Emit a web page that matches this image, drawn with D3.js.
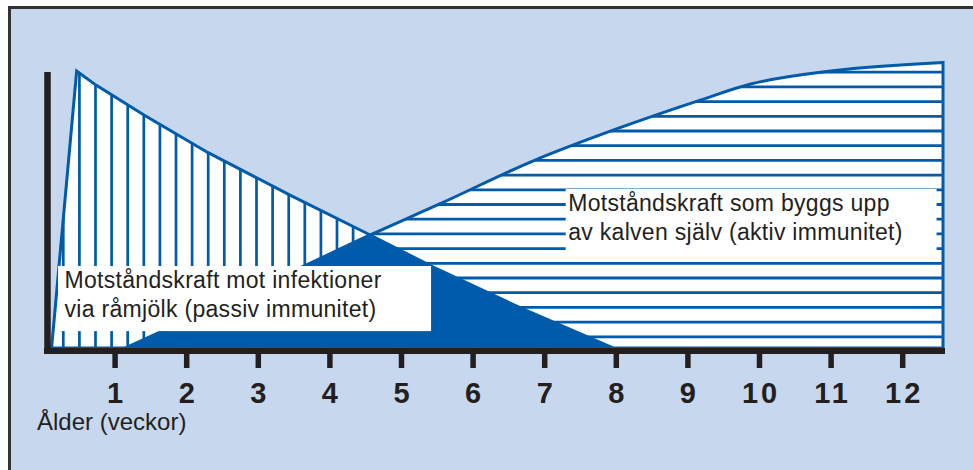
<!DOCTYPE html>
<html>
<head>
<meta charset="utf-8">
<script src="https://cdn.jsdelivr.net/npm/d3@7"></script>
<style>
  html, body { margin: 0; padding: 0; background: #ffffff; }
  svg { display: block; }
  text { font-family: "Liberation Sans", Arial, Helvetica, sans-serif; fill: #231f20; }
</style>
</head>
<body>
<svg id="chart" width="973" height="470"></svg>
<script>
// Age axis (weeks) and its tick labels
const weekTicks = [1, 2, 3, 4, 5, 6, 7, 8, 9, 10, 11, 12];
const tickLabels = ["1", "2", "3", "4", "5", "6", "7", "8", "9", "10", "11", "12"];

// Passive immunity (from colostrum): quick rise, then slow decline
const passiveWeeks = [0.12, 0.47, 0.74, 1.41, 2.30, 3.45, 4.57, 5.45, 6.70, 7.96];
const passiveLevel = [0, 100, 94.9, 84.1, 70.6, 55.2, 40.8, 29.2, 14.1, 0];

// Active immunity (built by the calf itself)
const activeWeeks = [1.15, 3.68, 4.57, 5.54, 6.84, 8.00, 9.18, 9.87, 11.03, 12.57];
const activeLevel = [0, 30.0, 40.8, 52.0, 67.5, 79.0, 89.5, 95.2, 100.1, 103.1];

// Label texts
const passiveLabel = ["Motståndskraft mot infektioner", "via råmjölk (passiv immunitet)"];
const activeLabel = ["Motståndskraft som byggs upp", "av kalven själv (aktiv immunitet)"];
const axisTitle = "Ålder (veckor)";

const BLUE = "#005baa";
const BG = "#c7d8ee";
const INK = "#231f20";

const svg = d3.select("#chart");

const x = d3.scaleLinear().domain([0, 12]).range([43, 902.2]);
const y = d3.scaleLinear().domain([0, 100]).range([348, 71]);

const passive = passiveWeeks.map((w, i) => ({ w, v: passiveLevel[i] }));
const active = activeWeeks.map((w, i) => ({ w, v: activeLevel[i] }));

// Panel frame
svg.append("rect").attr("x", 9.5).attr("y", 7.5).attr("width", 1000).attr("height", 500)
  .attr("fill", BG).attr("stroke", "#333333").attr("stroke-width", 3);

const passiveArea = d3.area().x(d => x(d.w)).y0(y(0)).y1(d => y(d.v)).curve(d3.curveLinear);
const activeArea = d3.area().x(d => x(d.w)).y0(y(0)).y1(d => y(d.v)).curve(d3.curveMonotoneX);

const defs = svg.append("defs");
defs.append("clipPath").attr("id", "clip-passive").append("path").attr("d", passiveArea(passive));
defs.append("clipPath").attr("id", "clip-active").append("path").attr("d", activeArea(active));

// White fills
svg.append("path").attr("d", passiveArea(passive)).attr("fill", "#ffffff");
svg.append("path").attr("d", activeArea(active)).attr("fill", "#ffffff");

// Vertical hatching inside the passive area
const vHatch = d3.range(0, 21).map(k => 63.3 + 16.1 * k);
svg.append("g").attr("clip-path", "url(#clip-passive)")
  .selectAll("line").data(vHatch).join("line")
  .attr("x1", d => d).attr("x2", d => d).attr("y1", 40).attr("y2", 360)
  .attr("stroke", BLUE).attr("stroke-width", 2.7);

// Horizontal hatching inside the active area
const hHatch = d3.range(0, 19).map(k => 72.2 + 14.7 * k);
svg.append("g").attr("clip-path", "url(#clip-active)")
  .selectAll("line").data(hHatch).join("line")
  .attr("x1", 30).attr("x2", 960).attr("y1", d => d).attr("y2", d => d)
  .attr("stroke", BLUE).attr("stroke-width", 2.8);

// Overlap of both: solid blue
svg.append("path").attr("d", passiveArea(passive)).attr("fill", BLUE)
  .attr("clip-path", "url(#clip-active)");

// Outlines
svg.append("path").attr("d", passiveArea(passive)).attr("fill", "none")
  .attr("stroke", BLUE).attr("stroke-width", 3).attr("stroke-linejoin", "miter");
svg.append("path").attr("d", activeArea(active)).attr("fill", "none")
  .attr("stroke", BLUE).attr("stroke-width", 3);

// Axes
svg.append("line").attr("x1", 47.5).attr("x2", 47.5).attr("y1", 72).attr("y2", 354)
  .attr("stroke", INK).attr("stroke-width", 6.5);
svg.append("line").attr("x1", 44).attr("x2", 945).attr("y1", 351).attr("y2", 351)
  .attr("stroke", INK).attr("stroke-width", 6);

const xAxis = d3.axisBottom(x).tickValues(weekTicks)
  .tickFormat((d, i) => tickLabels[i]).tickSize(17).tickPadding(14.7);
const gx = svg.append("g").attr("transform", `translate(0,351)`).call(xAxis);
gx.select(".domain").remove();
gx.selectAll(".tick line").attr("stroke", INK).attr("stroke-width", 5.5);
gx.selectAll(".tick text")
  .attr("font-family", "'Liberation Sans', Arial, sans-serif")
  .attr("font-size", 29).attr("font-weight", "bold").attr("fill", INK)
  .style("letter-spacing", "3px").attr("dx", "1.5px");

svg.append("text").attr("x", 37).attr("y", 430)
  .attr("font-size", 24).text(axisTitle);

// Label boxes
function labelBox(lines, w0, v0, w1, v1, pad) {
  const g = svg.append("g");
  g.append("rect").attr("x", x(w0)).attr("y", y(v0))
    .attr("width", x(w1) - x(w0)).attr("height", y(v1) - y(v0)).attr("fill", "#ffffff");
  g.selectAll("text").data(lines).join("text")
    .attr("x", x(w0) + pad).attr("y", (d, i) => y(v0) + 21.5 + i * 29)
    .attr("font-size", 23).style("letter-spacing", "0.3px").text(d => d);
}
labelBox(passiveLabel, 0.21, 29.6, 5.42, 6.1, 6.5);
labelBox(activeLabel, 7.30, 57.4, 12.48, 34.3, 2.5);
</script>
</body>
</html>
